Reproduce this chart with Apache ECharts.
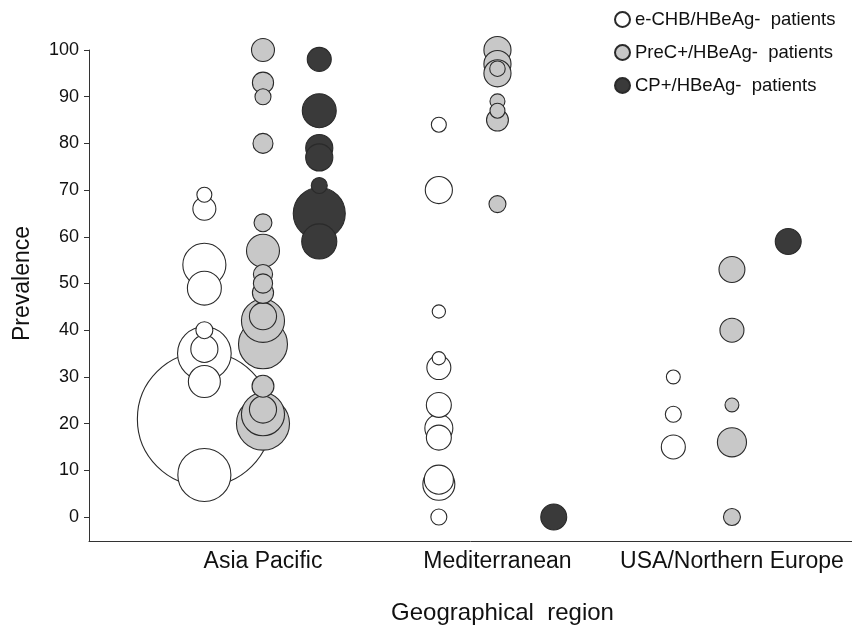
<!DOCTYPE html>
<html>
<head>
<meta charset="utf-8">
<script src="https://cdn.jsdelivr.net/npm/echarts@6/dist/echarts.min.js"></script>
<style>
  html, body { margin: 0; padding: 0; background: #fff; }
  #chart { width: 852px; height: 626px; }
</style>
</head>
<body>
<div id="chart"></div>
<script>
// regions on the x axis
const regions = ['Asia Pacific', 'Mediterranean', 'USA/Northern Europe'];
const yTicks = [0, 10, 20, 30, 40, 50, 60, 70, 80, 90, 100];

// [region index, prevalence %, patients]
const eChb = [
    [0, 69, 14], [0, 66, 33], [0, 54, 116], [0, 49, 72], [0, 40, 18],
    [0, 36, 46], [0, 35, 180], [0, 29, 64], [0, 21, 1122], [0, 9, 176],
    [1, 84, 14], [1, 70, 46], [1, 44, 11], [1, 34, 11], [1, 32, 36],
    [1, 24, 39], [1, 19, 49], [1, 17, 39], [1, 8, 53], [1, 7, 64], [1, 0, 16],
    [2, 30, 12], [2, 22, 16], [2, 15, 36]
];
const preC = [
    [0, 100, 33], [0, 93, 28], [0, 90, 16], [0, 80, 25], [0, 63, 20],
    [0, 57, 68], [0, 52, 23], [0, 50, 23], [0, 48, 28], [0, 43, 46],
    [0, 42, 116], [0, 37, 150], [0, 28, 30], [0, 23, 46], [0, 22, 116], [0, 20, 176],
    [1, 100, 46], [1, 97, 46], [1, 96, 15], [1, 95, 46], [1, 89, 14],
    [1, 87, 14], [1, 85, 30], [1, 67, 18],
    [2, 53, 42], [2, 40, 36], [2, 24, 12], [2, 16, 53], [2, 0, 18]
];
const cpPos = [
    [0, 98, 36], [0, 87, 72], [0, 79, 46], [0, 77, 46], [0, 71, 16],
    [0, 65, 169], [0, 59, 77],
    [1, 0, 42],
    [2, 59, 42]
];

const seriesNames = ['e-CHB/HBeAg-  patients', 'PreC+/HBeAg-  patients', 'CP+/HBeAg-  patients'];

let chart = echarts.init(document.getElementById('chart'), null, { renderer: 'canvas' });

// big bubbles first so the small ones stay visible on top
function build(rows, shift){
    return rows.map(r => [r[0] + shift, r[1], r[2]]).sort((a, b) => b[2] - a[2]);
}

function bubble(name, rows, shift, fill){
    return {
        name: name,
        type: 'scatter',
        data: build(rows, shift),
        symbolSize: v => 4 * Math.sqrt(v[2]),
        itemStyle: { color: fill, borderColor: '#2a2a2a', borderWidth: 1.1, opacity: 1 },
        emphasis: { disabled: true }
    };
}

chart.setOption({
    animation: false,
    backgroundColor: '#fff',
    textStyle: { fontFamily: 'Liberation Sans, Arial, sans-serif', color: '#111' },
    legend: {
        orient: 'vertical',
        left: 609,
        top: 5,
        icon: 'circle',
        itemWidth: 15,
        itemHeight: 15,
        itemGap: 14,
        textStyle: { fontSize: 18.5, color: '#111', fontFamily: 'Liberation Sans, Arial, sans-serif' },
        data: seriesNames
    },
    grid: { left: 89, right: 0, top: 50, bottom: 85, outerBoundsMode: 'none' },
    xAxis: {
        type: 'value',
        min: -0.742,
        max: 2.512,
        splitLine: { show: false },
        axisLine: { show: true, onZero: false, lineStyle: { color: '#333', width: 1 } },
        axisTick: { show: false },
        axisLabel: {
            customValues: [0, 1, 2],
            formatter: v => regions[Math.round(v)],
            fontSize: 23,
            color: '#111',
            margin: 9
        },
        name: 'Geographical  region',
        nameLocation: 'middle',
        nameGap: 60,
        nameTextStyle: { fontSize: 24, color: '#111', padding: [0, 0, 0, 64] }
    },
    yAxis: {
        type: 'value',
        min: -5.14,
        max: 100,
        splitLine: { show: false },
        axisLine: { show: true, onZero: false, lineStyle: { color: '#333', width: 1 } },
        axisTick: { show: true, customValues: yTicks, length: 5, lineStyle: { color: '#333' } },
        axisLabel: { customValues: yTicks, fontSize: 18, color: '#111', margin: 10 },
        name: 'Prevalence',
        nameLocation: 'middle',
        nameGap: 55,
        nameTextStyle: { fontSize: 23, color: '#111', padding: [0, 0, 0, 24] }
    },
    series: [
        bubble(seriesNames[0], eChb, -0.25, '#ffffff'),
        bubble(seriesNames[1], preC, 0, '#c8c8c8'),
        bubble(seriesNames[2], cpPos, 0.24, '#3a3a3a')
    ]
});
</script>
</body>
</html>
